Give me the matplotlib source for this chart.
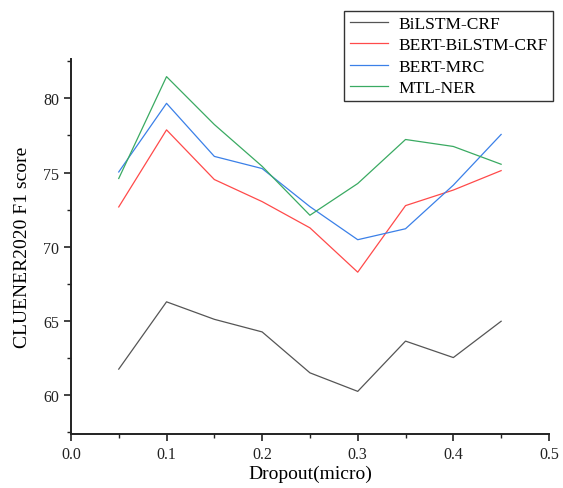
import matplotlib
matplotlib.use("Agg")
import matplotlib.pyplot as plt
from matplotlib.ticker import MultipleLocator, FormatStrFormatter

dropout = [0.05, 0.10, 0.15, 0.20, 0.25, 0.30, 0.35, 0.40, 0.45]
bilstm_crf = [61.74, 66.28, 65.10, 64.25, 61.49, 60.24, 63.63, 62.52, 64.97]
bert_bilstm_crf = [72.68, 77.88, 74.53, 73.04, 71.27, 68.28, 72.77, 73.82, 75.13]
bert_mrc = [75.04, 79.67, 76.09, 75.27, 72.70, 70.47, 71.21, 74.15, 77.57]
mtl_ner = [74.60, 81.47, 78.24, 75.42, 72.12, 74.26, 77.23, 76.76, 75.56]

series = [
    ("BiLSTM-CRF", bilstm_crf, "#555555"),
    ("BERT-BiLSTM-CRF", bert_bilstm_crf, "#ff4a4a"),
    ("BERT-MRC", bert_mrc, "#3b80e8"),
    ("MTL-NER", mtl_ner, "#3aaa62"),
]

plt.rcParams['font.family'] = ['Liberation Serif', 'DejaVu Serif']

fig = plt.figure(figsize=(5.63, 4.89), dpi=100)
ax = fig.add_axes([0.126, 0.110, 0.849, 0.767])

for name, vals, col in series:
    ax.plot(dropout, vals, color=col, lw=0.9, label=name)

ax.set_xlim(0.0, 0.5)
ax.set_ylim(57.35, 82.65)
ax.xaxis.set_major_locator(MultipleLocator(0.1))
ax.xaxis.set_minor_locator(MultipleLocator(0.05))
ax.yaxis.set_major_locator(MultipleLocator(5))
ax.yaxis.set_minor_locator(MultipleLocator(2.5))
ax.xaxis.set_major_formatter(FormatStrFormatter('%.1f'))

for s in ['top', 'right']:
    ax.spines[s].set_visible(False)
for s in ['left', 'bottom']:
    ax.spines[s].set_linewidth(1.4)
    ax.spines[s].set_color('#222222')

ax.tick_params(which='major', direction='out', length=5, width=1.2, labelsize=11.5, colors='#222222')
ax.tick_params(which='minor', direction='out', length=3, width=1.0, colors='#222222')

ax.set_xlabel("Dropout(micro)", fontsize=14, labelpad=2)
ax.set_ylabel("CLUENER2020 F1 score", fontsize=14, labelpad=9)

leg = fig.legend(loc='upper right', bbox_to_anchor=(0.982, 0.976), fontsize=12.5,
                 frameon=True, fancybox=False, edgecolor='black', borderpad=0.3,
                 labelspacing=0.3, handlelength=2.2, handletextpad=0.6,
                 borderaxespad=0.0)
leg.get_frame().set_linewidth(1.0)

fig.savefig("out.png", dpi=100)
